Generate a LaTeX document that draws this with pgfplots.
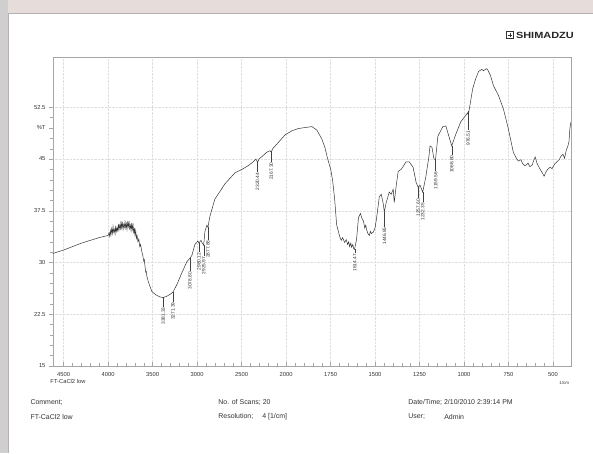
\documentclass[border=0pt]{standalone}
\usepackage{fontspec}
\setmainfont{Liberation Sans}
\usepackage{pgfplots}
\usepackage{pgfplotstable}
\pgfplotsset{compat=1.18}
\definecolor{scanpink}{RGB}{230,220,218}
\definecolor{scangray}{RGB}{208,206,206}
\pgfplotstableread{
wn T
4620 31.3
4500 31.8
4400 32.3
4300 32.8
4200 33.2
4100 33.6
4040 33.8
4000 33.9
3990 34.3
3982 33.8
3975 34.6
3968 34.0
3960 34.9
3952 34.2
3945 35.2
3938 34.4
3930 34.8
3922 34.1
3915 35.3
3908 34.5
3900 35.0
3892 34.6
3885 35.6
3878 34.7
3870 35.4
3862 34.9
3855 36.0
3848 35.0
3840 35.7
3832 34.8
3825 35.5
3818 35.1
3810 35.9
3802 35.0
3795 35.6
3788 34.8
3780 35.8
3772 35.2
3765 36.0
3758 34.9
3750 35.4
3742 34.6
3735 35.7
3728 34.8
3720 35.5
3712 34.2
3705 35.0
3698 33.9
3690 34.6
3682 33.5
3675 33.9
3665 33.0
3655 33.4
3644 32.3
3635 32.6
3622 31.6
3610 31.0
3600 30.2
3592 30.4
3588 29.7
3578 28.6
3570 28.7
3565 28.0
3550 27.3
3532 26.6
3509 25.8
3464 25.3
3419 25.0
3381 24.9
3340 25.1
3300 25.4
3271 25.7
3227 26.8
3171 28.5
3115 30.1
3081 30.6
3059 31.0
3025 32.6
2991 33.1
2980 32.8
2957 33.2
2946 32.9
2926 32.5
2912 34.5
2890 35.4
2878 35.1
2856 36.7
2800 39.2
2743 40.3
2687 41.4
2574 43.0
2495 43.5
2417 44.1
2360 44.7
2338 45.0
2320 44.5
2304 45.0
2214 46.0
2180 46.2
2167 46.0
2150 46.5
2101 47.2
2011 48.5
1967 49.1
1933 49.4
1911 49.5
1883 49.6
1855 49.7
1827 49.2
1799 47.9
1782 46.7
1766 45.0
1749 43.5
1738 41.8
1727 39.2
1716 35.5
1699 33.8
1690 33.2
1682 33.6
1671 32.9
1662 33.3
1654 32.6
1648 33.0
1643 32.3
1636 32.8
1632 32.2
1625 32.6
1620 32.0
1615 31.9
1608 32.8
1604 33.3
1593 36.5
1582 37.1
1574 36.4
1565 36.0
1558 35.0
1552 35.4
1548 34.8
1540 34.2
1532 33.9
1526 34.5
1520 34.2
1509 34.4
1500 35.0
1492 36.3
1476 39.5
1465 39.9
1453 38.4
1448 37.3
1437 38.7
1420 40.2
1409 39.9
1398 40.6
1392 38.7
1381 41.1
1370 43.2
1353 43.5
1325 44.6
1308 44.6
1286 43.8
1269 41.6
1258 40.9
1247 41.2
1232 40.2
1214 42.5
1197 45.4
1191 46.9
1180 46.7
1169 45.0
1160 44.9
1147 48.3
1119 49.7
1102 49.8
1085 48.3
1069 46.9
1046 48.6
1018 50.4
991 51.3
980 51.7
976 51.4
968 52.6
951 55.2
935 56.6
918 57.7
900 58.0
890 57.8
875 58.1
868 58.0
851 57.1
834 55.6
806 54.2
779 52.3
751 49.4
723 46.0
710 45.3
695 44.7
680 44.9
670 44.3
656 44.0
640 44.4
630 43.9
617 44.1
608 44.8
600 45.3
590 44.4
572 43.5
560 43.0
550 42.5
540 43.1
530 43.5
516 43.8
505 43.6
490 44.3
477 44.6
465 44.9
455 45.4
444 45.7
435 45.1
425 46.3
416 46.9
410 47.5
405 49.4
400 50.3
}\spectrum
\pgfplotstableread{
wn T ey lab
3381.33 23.6 1.4 3381.33
3271.39 24.3 1.4 3271.39
3078.80 28.7 1.9 3078.80
2980.12 31.5 1.3 2980.12
2925.97 30.9 1.7 2925.97
2877.88 33.3 1.8 2877.88
2320.44 43.1 1.5 2320.44
2167.30 44.6 1.6 2167.30
1614.47 31.3 0.6 1614.47
1446.85 35.2 2.1 1446.85
1257.60 39.3 1.6 1257.60
1232.35 38.7 1.5 1232.35
1159.56 43.2 1.8 1159.56
1068.60 45.6 1.3 1068.60
976.51 49.2 2.8 976.51
}\peaks
\begin{document}
\begin{tikzpicture}
\fill[white] (0,0) rectangle (593bp,453bp);
\fill[scanpink] (0,440bp) rectangle (593bp,453bp);
\fill[scangray] (0,0) rectangle (8bp,453bp);
\draw[gray!60, line width=0.5bp] (8bp,0) -- (8bp,440bp) -- (593bp,440bp);
\begin{axis}[
  at={(53bp,87bp)}, anchor=south west,
  scale only axis, width=518bp, height=309bp,
  x dir=reverse,
  xmin=-1200, xmax=4620, ymin=15, ymax=59.8,
  x filter/.expression={x<2000 ? 2*x-2000 : x},
  xtick={4500,4000,3500,3000,2500,2000,1500,1000,500,0,-500,-1000},
  xticklabels={4500,4000,3500,3000,2500,2000,1750,1500,1250,1000,750,500},
  ytick={15,22.5,30,37.5,45,52.5},
  yticklabels={15,22.5,30,37.5,45,52.5},
  extra y ticks={49.5}, extra y tick labels={\%T},
  extra y tick style={grid=none},
  minor x tick num=4, minor y tick num=4,
  grid=major,
  major grid style={densely dotted, gray!25, line width=0.3bp},
  axis line style={gray!70, line width=0.4bp},
  tick style={gray!70, line width=0.3bp},
  major tick length=4bp, minor tick length=2.5bp,
  xtick align=inside, ytick align=outside,
  xtick pos=bottom, ytick pos=left,
  tick label style={font=\fontsize{5.8}{6}\selectfont, text=black!80},
  xticklabel style={yshift=-3bp},
  clip=false,
]
\addplot[black!80, line width=0.5bp, mark=none] table[x=wn, y=T] {\spectrum};
\addplot[only marks, mark=*, mark size=0pt, mark options={draw=none, fill=none},
  error bars/.cd, y dir=plus, y explicit, error mark=none,
  error bar style={black!75, line width=0.3bp}]
  table[x=wn, y=T, y error=ey] {\peaks};
\addplot[only marks, mark=*, mark size=0pt, mark options={draw=none, fill=none},
  point meta=explicit symbolic, nodes near coords,
  every node near coord/.style={rotate=90, anchor=east, inner sep=0.6bp,
    font=\fontsize{4.8}{4.8}\selectfont, text=black!80}]
  table[x=wn, y=T, meta=lab] {\peaks};
\end{axis}
\node[anchor=west, font=\fontsize{5.8}{6}\selectfont, text=black!80] at (47bp,71bp) {FT-CaCl2 low};
\node[anchor=west, font=\fontsize{4.5}{5}\selectfont, text=black!80] at (556bp,70bp) {1/cm};
\node[anchor=west, font=\fontsize{7}{8}\selectfont, text=black!80] at (27bp,50bp) {Comment;};
\node[anchor=west, font=\fontsize{7}{8}\selectfont, text=black!80] at (27bp,36bp) {FT-CaCl2 low};
\node[anchor=west, font=\fontsize{7}{8}\selectfont, text=black!80] at (215bp,50bp) {No. of Scans; 20};
\node[anchor=west, font=\fontsize{7}{8}\selectfont, text=black!80] at (215bp,36bp) {Resolution;\hspace{9bp}4 [1/cm]};
\node[anchor=west, font=\fontsize{7}{8}\selectfont, text=black!80] at (405bp,50bp) {Date/Time; 2/10/2010 2:39:14 PM};
\node[anchor=west, font=\fontsize{7}{8}\selectfont, text=black!80] at (405bp,36bp) {User;};
\node[anchor=west, font=\fontsize{7}{8}\selectfont, text=black!80] at (441bp,36bp) {Admin};
\draw[black!80, line width=0.7bp] (506.5bp,414.5bp) rectangle (513.5bp,421.5bp);
\draw[black!80, line width=0.5bp] (508bp,418bp) -- (512bp,418bp) (510bp,416bp) -- (510bp,420bp);
\node[anchor=west, font=\fontsize{9}{9}\selectfont\bfseries, text=black!85, inner sep=0pt, xscale=1.22] at (516bp,418bp) {SHIMADZU};
\end{tikzpicture}
\end{document}
